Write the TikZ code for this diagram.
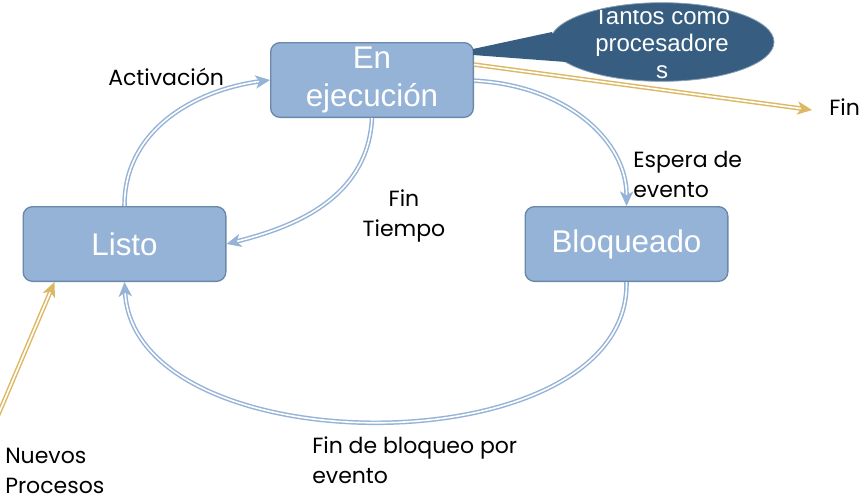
\documentclass[tikz,border=0pt]{standalone}
\usepackage{fontspec}
\setmainfont{Liberation Sans}
\newfontfamily\notefont{Poppins}
\usetikzlibrary{arrows.meta,shapes.geometric}
\definecolor{boxfill}{HTML}{95B3D7}
\definecolor{boxline}{HTML}{6A88AA}
\definecolor{bubble}{HTML}{375E80}
\definecolor{gold}{HTML}{DDB862}
\begin{document}
\begin{tikzpicture}
  [
  x=0.75pt, y=-0.75pt,
  state/.style={rectangle, rounded corners=7pt, draw=boxline, fill=boxfill, line width=1pt, minimum width=152pt, minimum height=56pt, inner sep=0pt, text=white, align=center, font=\fontsize{23.5}{28.5}\selectfont},
  note/.style={inner sep=0pt, font=\notefont\fontsize{16.5}{22.5}\selectfont},
  flow/.style={draw=boxfill, double=white, double distance=1.2pt, line width=1.1pt, -{Stealth[length=11pt, width=10pt, inset=3pt]}},
  newflow/.style={flow, draw=gold},
  ]

\useasboundingbox (0,0) rectangle (868,500);

\node[state] (run) at (372,80) {En\\ejecución};
\node[state] (ready) at (124.5,244) {Listo};
\node[state] (blocked) at (626.5,244) {Bloqueado};

\node[ellipse, fill=bubble, draw=bubble!60!white, line width=0.6pt, minimum width=168pt, minimum height=59pt] (cpu) at (662,42) {};
\fill[bubble] (473,49) -- (552,32) -- (566,62) -- (473,55) -- cycle;
\begin{scope}
  \clip (0,10) rectangle (868,500);
  \node[inner sep=0pt, text=white, align=center, font=\fontsize{18}{20.25}\selectfont] (cputext) at (662,43) {Tantos como\\procesadore\\s};
\end{scope}

\node[note, anchor=base west] (act) at (108,85) {Activación};
\node[note, anchor=north, align=center] (quantum) at (404,189) {Fin\\Tiempo};
\node[note, anchor=north west, align=left] (wait) at (633,151) {Espera de\\evento};
\node[note, anchor=north west, align=left] (wake) at (312,436) {Fin de bloqueo por\\evento};
\node[note, anchor=north west, align=left] (new) at (5,448) {Nuevos\\Procesos};
\node[note, anchor=base west] (fin) at (829,115) {Fin};

\coordinate (newin) at (-4,420);
\coordinate (finend) at (812,110);

\draw[flow] (ready.north) .. controls (124,130) and (195,90) .. (run.west);
\draw[flow] (run.south) .. controls (368,200) and (290,228) .. (ready.east);
\draw[flow] ([yshift=-0.5pt]run.east) .. controls (565,85) and (627,140) .. (blocked.north);
\draw[flow] (blocked.south) .. controls (630,468) and (135,468) .. (ready.south);
\draw[newflow] (newin) -- ([xshift=-52.5pt]ready.south);
\draw[newflow] ([yshift=11.6pt]run.east) -- (finend);
\end{tikzpicture}
\end{document}
